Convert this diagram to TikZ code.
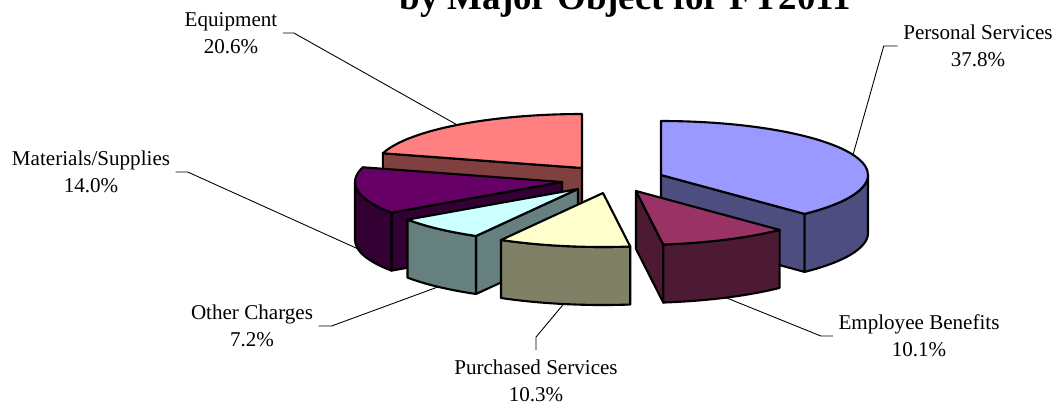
\documentclass[tikz,border=0pt]{standalone}
\usepackage{fontspec}
\setmainfont{Liberation Serif}
\usepackage{tikz}
\usetikzlibrary{arrows,backgrounds}
\usepackage{xcolor}
\definecolor{ps-top}{RGB}{153,153,255}
\definecolor{ps-side}{RGB}{77,77,128}
\definecolor{eb-top}{RGB}{153,51,102}
\definecolor{eb-side}{RGB}{77,26,51}
\definecolor{pu-top}{RGB}{255,255,204}
\definecolor{pu-side}{RGB}{128,128,102}
\definecolor{oc-top}{RGB}{204,255,255}
\definecolor{oc-side}{RGB}{102,128,128}
\definecolor{ms-top}{RGB}{102,0,102}
\definecolor{ms-side}{RGB}{51,0,51}
\definecolor{eq-top}{RGB}{255,128,128}
\definecolor{eq-side}{RGB}{128,64,64}
\tikzstyle{chart}=[x=.02cm, y=.02cm]
\tikzstyle{face}=[draw=black, line width=1.2pt, line join=round]
\tikzstyle{pierim}=[x radius=207, y radius=54]
\tikzstyle{leader}=[line width=.5pt]
\tikzstyle{lbl}=[align=center, inner xsep=3pt, inner ysep=1pt, font=\fontsize{12}{15.3}\selectfont]
\tikzstyle{titletext}=[inner sep=0pt, font=\fontsize{21}{25}\selectfont\bfseries]

\begin{document}
\begin{tikzpicture}[chart]
	\useasboundingbox (0,0) rectangle (1057,-407);
	\clip (0,0) rectangle (1057,-407);
	\node[titletext, anchor=base] (title) at (625,-9) {by Major Object for FY2011};
	% top centres of the slices and the centres under them
	\coordinate (eq) at (582,-168); \coordinate (eqb) at (582,-226);
	\coordinate (ps) at (661,-175); \coordinate (psb) at (661,-233);
	\coordinate (ms) at (562,-182); \coordinate (msb) at (562,-240);
	\coordinate (oc) at (578,-189); \coordinate (ocb) at (578,-247);
	\coordinate (pu) at (603,-193); \coordinate (pub) at (603,-251);
	\coordinate (eb) at (636,-191); \coordinate (ebb) at (636,-249);
	% Equipment
	\filldraw[face, fill=eq-side] (eq) -- ++(164.16:207 and 54) -- ++(0,-58) -- (eqb) -- cycle;
	\filldraw[face, fill=eq-top] (eq) -- ++(90:207 and 54) arc[pierim, start angle=90, end angle=164.16] -- cycle;
	% Personal Services
	\filldraw[face, fill=ps-side] (ps) -- ++(-46.08:207 and 54) -- ++(0,-58) -- (psb) -- cycle;
	\filldraw[face, fill=ps-side] (ps) ++(0:207 and 54) arc[pierim, start angle=0, end angle=-46.08] -- ++(0,-58) arc[pierim, start angle=-46.08, end angle=0] -- cycle;
	\filldraw[face, fill=ps-top] (ps) -- ++(-46.08:207 and 54) arc[pierim, start angle=-46.08, end angle=90] -- cycle;
	% Materials/Supplies
	\filldraw[face, fill=ms-side] (ms) -- ++(-145.44:207 and 54) -- ++(0,-58) -- (msb) -- cycle;
	\filldraw[face, fill=ms-side] (ms) ++(-180:207 and 54) arc[pierim, start angle=-180, end angle=-145.44] -- ++(0,-58) arc[pierim, start angle=-145.44, end angle=-180] -- cycle;
	\filldraw[face, fill=ms-top] (ms) -- ++(-195.84:207 and 54) arc[pierim, start angle=-195.84, end angle=-145.44] -- cycle;
	% Other Charges
	\filldraw[face, fill=oc-side] (oc) -- ++(-119.52:207 and 54) -- ++(0,-58) -- (ocb) -- cycle;
	\filldraw[face, fill=oc-side] (oc) ++(-145.44:207 and 54) arc[pierim, start angle=-145.44, end angle=-119.52] -- ++(0,-58) arc[pierim, start angle=-119.52, end angle=-145.44] -- cycle;
	\filldraw[face, fill=oc-top] (oc) -- ++(-145.44:207 and 54) arc[pierim, start angle=-145.44, end angle=-119.52] -- cycle;
	% Purchased Services
	\filldraw[face, fill=pu-side] (pu) ++(-119.52:207 and 54) arc[pierim, start angle=-119.52, end angle=-82.44] -- ++(0,-58) arc[pierim, start angle=-82.44, end angle=-119.52] -- cycle;
	\filldraw[face, fill=pu-top] (pu) -- ++(-119.52:207 and 54) arc[pierim, start angle=-119.52, end angle=-82.44] -- cycle;
	% Employee Benefits
	\filldraw[face, fill=eb-side] (eb) -- ++(-82.44:207 and 54) -- ++(0,-58) -- (ebb) -- cycle;
	\filldraw[face, fill=eb-side] (eb) ++(-82.44:207 and 54) arc[pierim, start angle=-82.44, end angle=-46.08] -- ++(0,-58) arc[pierim, start angle=-46.08, end angle=-82.44] -- cycle;
	\filldraw[face, fill=eb-top] (eb) -- ++(-82.44:207 and 54) arc[pierim, start angle=-82.44, end angle=-46.08] -- cycle;
	% where the leaders meet the slices
	\path (eq) ++(127.08:207 and 54) coordinate (eqrim);
	\path (ps) ++(21.96:207 and 54) coordinate (psrim);
	\path (msb) ++(-170.64:207 and 54) coordinate (msrim);
	\path (ocb) ++(-132.48:207 and 54) coordinate (ocrim);
	\path (pub) ++(-100.98:207 and 54) coordinate (purim);
	\path (ebb) ++(-64.26:207 and 54) coordinate (ebrim);
	\node[lbl] (eqlbl) at (231,-33) {Equipment\\20.6\%};
	\node[lbl] (pslbl) at (978,-46) {Personal Services\\37.8\%};
	\node[lbl] (mslbl) at (91,-172) {Materials/Supplies\\14.0\%};
	\node[lbl] (oclbl) at (252,-326) {Other Charges\\7.2\%};
	\node[lbl] (pulbl) at (536,-381) {Purchased Services\\10.3\%};
	\node[lbl] (eblbl) at (919,-336) {Employee Benefits\\10.1\%};
	\draw[leader] (eqlbl.east) -- ++(11,0) -- (eqrim);
	\draw[leader] (pslbl.west) -- ++(-14,0) -- (psrim);
	\draw[leader] (mslbl.east) -- ++(12,0) -- (msrim);
	\draw[leader] (oclbl.east) -- ++(13,0) -- (ocrim);
	\draw[leader] ([yshift=4.5pt]pulbl.north) -- ++(0,13) -- (purim);
	\draw[leader] (eblbl.west) -- ++(-12,0) -- (ebrim);
\end{tikzpicture}
\end{document}
